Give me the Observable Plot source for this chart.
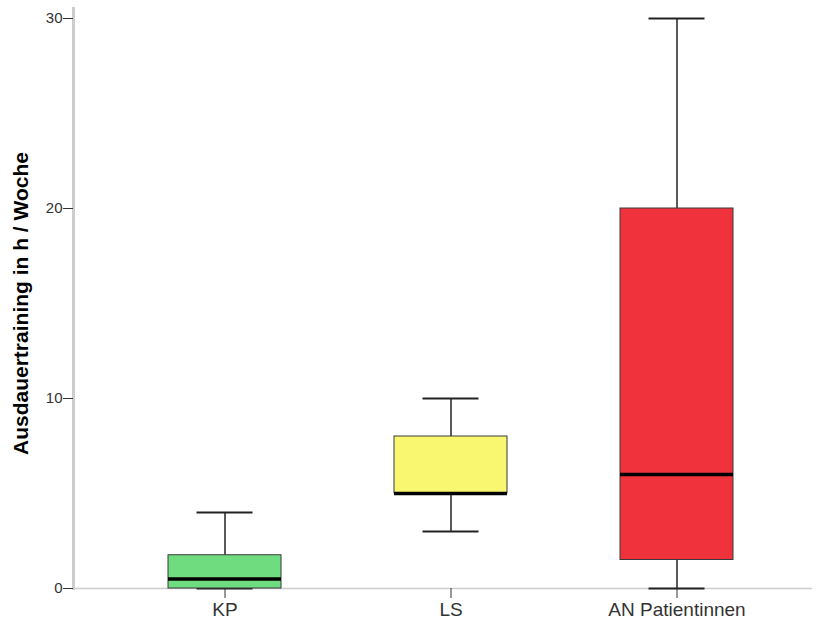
<!DOCTYPE html>
<html>
<head>
<meta charset="utf-8">
<script src="https://cdn.jsdelivr.net/npm/d3@7"></script>
<script src="https://cdn.jsdelivr.net/npm/@observablehq/plot@0.6"></script>
<style>
  body { margin: 0; background: #fff; }
  #chart svg { display: block; }
</style>
</head>
<body>
<div id="chart"></div>
<script>
const categories = ["KP", "LS", "AN Patientinnen"];
const whiskerLow = [0, 3, 0];
const q1 = [0, 5, 1.5];
const median = [0.5, 5, 6];
const q3 = [1.75, 8, 20];
const whiskerHigh = [4, 10, 30];
const boxColors = ["#6fdc80", "#f9f76f", "#ef323b"];
const yTicks = [0, 10, 20, 30];
const yLabel = "Ausdauertraining in h / Woche";

const table = categories.map((c, i) => ({
  cat: c, lo: whiskerLow[i], q1: q1[i], med: median[i], q3: q3[i], hi: whiskerHigh[i], color: boxColors[i]
}));

const chart = Plot.plot({
  width: 819,
  height: 623,
  marginTop: 8,
  marginLeft: 73,
  marginRight: 7,
  marginBottom: 35,
  style: { fontFamily: "Liberation Sans, Arial, sans-serif", background: "#fff", color: "#333" },
  x: { domain: categories, range: [111, 790], paddingInner: 0.5, paddingOuter: 0.25 },
  y: { domain: [0, 30], range: [588, 18] },
  marks: [
    Plot.frame({ anchor: "left", stroke: "#cccccc", strokeWidth: 3 }),
    Plot.ruleY([0], { stroke: "#cccccc", strokeWidth: 1.5 }),
    Plot.axisY({ ticks: yTicks, tickSize: 10, tickPadding: 1, fontSize: 15, label: null, stroke: "#333", fill: "#333" }),
    Plot.axisX({ tickSize: 10, tickPadding: 4, fontSize: 19, label: null, stroke: "#333", fill: "#333" }),
    Plot.text([yLabel], { frameAnchor: "left", textAnchor: "middle", rotate: -90, dx: -52, dy: 5, fontSize: 21, fontWeight: "bold", fill: "#000" }),
    Plot.ruleX(table, { x: "cat", y1: "q3", y2: "hi", stroke: "#222", strokeWidth: 1.5 }),
    Plot.ruleX(table, { x: "cat", y1: "lo", y2: "q1", stroke: "#222", strokeWidth: 1.5 }),
    Plot.tickY(table, { x: "cat", y: "hi", stroke: "#222", strokeWidth: 2, inset: 28.5 }),
    Plot.tickY(table, { x: "cat", y: "lo", stroke: "#222", strokeWidth: 2, inset: 28.5 }),
    Plot.barY(table, { x: "cat", y1: "q1", y2: "q3", fill: d => d.color, stroke: "#3a3a3a", strokeWidth: 1 }),
    Plot.tickY(table, { x: "cat", y: "med", stroke: "#000", strokeWidth: 3.5 })
  ]
});
document.getElementById("chart").appendChild(chart);
</script>
</body>
</html>
